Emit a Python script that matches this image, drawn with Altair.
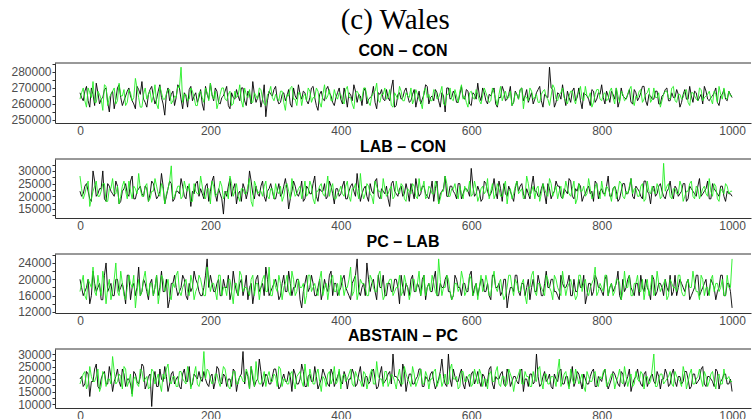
import altair as alt
import pandas as pd

# Values in thousands.
# *_a: values at iterations 0, 5, ..., 1000 ; *_b: values at 2.5, 7.5, ..., 997.5
iters_a = [i * 5 for i in range(201)]
iters_b = [i * 5 + 2.5 for i in range(200)]

con_con_black_a = [
    267,262,271,258,266,273,260,264,270,255,268,263,272,259,265,270,262,257,269,274,
    261,266,271,260,268,264,253,270,266,259,272,263,267,258,271,265,261,269,256,266,
    273,262,268,260,265,271,257,264,269,262,270,259,266,274,261,267,263,252,268,265,
    271,260,266,262,269,258,265,272,263,267,260,270,264,256,268,262,271,265,259,267,
    263,270,258,266,272,261,265,268,260,264,271,257,266,263,269,262,275,259,267,264,
    270,261,266,258,268,263,272,260,265,269,262,267,255,270,264,266,261,271,263,268,
    259,266,273,262,267,260,265,270,258,264,268,263,271,261,266,269,262,269,264,260,
    267,271,258,265,283,269,261,266,272,259,264,268,262,270,257,266,263,269,261,267,
    272,260,265,268,263,258,270,264,266,261,269,262,267,271,259,265,263,268,260,266,
    270,262,264,269,258,266,263,271,261,267,264,260,268,262,265,270,259,266,263,268,
    264]
con_con_black_b = [
    264,268,262,270,259,267,263,269,261,266,257,270,264,262,268,265,260,271,266,263,
    258,269,265,263,272,260,266,262,268,264,270,257,265,269,262,267,264,260,271,263,
    266,270,261,264,268,259,267,263,265,270,262,268,260,266,264,258,272,262,266,269,
    263,261,267,265,260,270,263,266,268,262,264,271,259,266,263,269,267,261,264,270,
    260,265,267,262,268,266,259,270,263,265,261,267,269,262,264,270,258,266,263,268,
    265,262,269,263,260,266,271,264,262,267,258,265,270,263,268,261,266,264,269,260,
    267,263,265,270,262,266,268,260,264,271,262,266,259,268,263,270,265,261,267,263,
    269,262,266,264,270,258,267,263,265,268,261,270,264,262,267,265,259,268,263,266,
    264,268,261,266,270,262,265,263,269,260,267,264,271,262,266,263,268,260,265,269,
    262,267,264,266,261,269,263,265,268,262,266,271,263,264,267,261,265,269,262,266]
con_con_green_a = [
    263,270,258,267,274,261,266,256,271,264,268,260,273,265,259,269,262,276,264,258,
    270,266,261,272,257,267,263,269,260,265,271,283,266,262,270,264,259,268,261,267,
    273,263,257,266,270,262,268,260,264,272,258,266,269,261,265,270,263,259,267,264,
    266,262,268,256,265,271,263,267,259,266,270,261,264,268,258,272,265,262,269,263,
    266,260,271,264,257,268,262,270,265,259,267,273,261,266,263,269,258,265,271,262,
    267,264,260,269,263,257,270,266,262,268,264,271,259,266,263,269,261,272,265,258,
    268,263,266,260,270,264,262,267,259,271,265,263,268,261,266,269,257,264,270,263,
    266,261,268,264,259,272,263,266,270,262,265,268,260,267,263,271,264,258,266,269,
    262,267,263,270,260,265,268,262,266,271,259,264,269,263,267,261,270,264,258,266,
    268,263,271,261,266,264,269,259,267,263,270,262,265,268,260,266,271,263,264,268,
    265]
con_con_green_b = [
    267,262,270,264,261,268,263,272,259,266,270,262,265,269,261,267,264,270,258,266,
    263,268,265,260,271,263,266,269,262,264,270,261,266,263,268,259,267,264,270,262,
    265,268,261,270,263,266,259,268,265,262,270,264,261,267,263,269,260,266,271,262,
    264,268,261,266,270,263,259,267,265,262,268,264,270,261,266,263,269,262,265,267,
    262,269,264,260,267,266,263,270,261,265,268,262,266,270,264,259,267,263,268,262,
    265,270,263,266,261,268,264,262,269,263,267,260,266,270,262,265,268,263,261,267,
    264,269,262,265,267,261,270,263,266,262,268,264,259,267,263,270,265,262,268,264,
    261,266,269,263,265,270,262,267,264,260,268,263,266,271,262,265,267,261,269,263,
    266,262,268,264,270,261,266,263,269,262,265,268,261,266,270,263,264,267,262,268,
    264,270,262,266,263,268,261,267,265,262,269,264,266,263,268,261,266,270,263,265]

lab_con_black_a = [
    22,21,25,19,30,20,23,30,18,24,21,26,17,22,25,20,28,19,23,21,
    24,18,26,22,20,29,17,23,25,19,22,27,20,24,16,21,26,23,19,25,
    22,28,18,21,13,20,27,23,17,22,25,19,30,21,24,20,26,18,23,22,
    19,25,21,27,15,22,24,20,26,19,23,21,28,18,22,25,20,24,17,23,
    21,26,19,24,22,29,18,23,20,25,21,27,19,22,24,16,26,21,23,20,
    25,18,22,27,20,24,21,19,26,23,17,22,28,20,24,21,25,19,23,22,
    31,20,24,18,26,22,21,27,19,23,25,20,22,18,26,24,21,23,19,28,
    22,20,25,17,23,21,26,24,19,22,27,20,23,25,18,21,24,22,26,19,
    23,21,28,20,24,18,22,25,21,27,19,23,20,26,22,17,24,21,25,20,
    22,26,19,23,21,25,18,24,22,20,27,21,23,19,25,22,20,24,18,21,
    20]
lab_con_black_b = [
    20,24,22,18,26,21,23,19,25,22,20,24,18,23,21,26,19,22,24,20,
    23,21,25,19,22,24,20,26,18,22,21,24,19,23,22,25,20,21,24,18,
    26,21,23,19,22,24,20,25,21,18,23,22,26,19,21,24,20,22,25,19,
    22,20,24,23,19,26,21,22,18,24,21,25,20,23,22,19,26,21,23,20,
    24,19,22,25,20,23,21,24,18,22,26,20,23,21,19,25,22,20,24,21,
    22,25,19,23,21,24,20,22,18,26,21,23,20,24,22,19,25,21,23,20,
    24,21,22,19,25,20,23,22,26,18,21,24,20,23,22,25,19,21,24,22,
    20,23,21,25,19,22,24,20,23,21,26,19,22,24,20,23,21,18,25,22,
    21,24,20,23,22,19,25,21,23,20,24,22,19,26,21,23,20,24,22,19,
    23,21,24,20,22,25,19,23,21,24,20,22,26,19,23,21,24,20,22,21]
lab_con_green_a = [
    28,19,24,16,22,26,20,25,18,23,27,21,17,24,22,26,19,23,29,20,
    24,18,22,27,21,25,17,23,32,20,24,19,26,22,18,25,21,28,20,23,
    17,24,21,26,19,22,28,20,25,18,23,21,27,16,24,22,20,26,19,23,
    25,21,18,24,22,27,20,23,19,26,21,24,17,22,25,20,28,23,19,21,
    24,20,26,18,23,22,29,19,25,21,17,24,22,27,20,23,19,26,21,24,
    18,22,25,20,27,23,19,24,21,26,17,22,28,20,23,25,19,21,24,22,
    20,26,18,23,21,27,22,19,25,20,24,17,23,21,26,22,19,28,20,24,
    23,18,25,21,27,20,24,22,19,26,21,23,17,25,22,20,27,19,24,21,
    26,20,23,18,24,22,25,19,21,27,23,20,24,18,26,21,22,25,19,33,
    24,20,23,21,26,18,22,25,20,24,19,23,21,27,20,24,18,22,25,21,
    22]
lab_con_green_b = [
    23,21,26,19,24,20,22,25,18,23,21,24,20,26,19,22,24,21,23,20,
    25,19,22,24,20,23,21,26,19,22,24,20,23,25,18,22,21,24,19,23,
    26,20,22,24,21,19,25,22,20,23,21,24,18,26,21,22,24,20,23,19,
    22,24,20,25,19,23,21,24,22,20,26,19,22,24,21,23,20,25,19,22,
    21,24,20,23,25,19,22,21,24,20,26,22,19,23,21,24,20,22,25,19,
    23,21,24,19,22,26,20,23,21,24,19,22,25,20,23,21,24,19,22,26,
    21,23,20,24,22,19,25,21,23,20,26,22,19,24,21,23,20,25,22,19,
    24,21,23,20,25,22,19,24,21,23,20,26,19,22,24,21,23,20,25,19,
    22,24,21,23,19,26,20,22,24,21,23,20,25,19,22,24,21,23,20,22,
    25,19,23,21,24,20,22,26,19,23,21,24,20,22,25,19,23,21,24,22]

pc_lab_black_a = [
    20,16,18,14,22,17,19,15,24,18,16,20,17,19,14,21,18,16,23,17,
    19,15,20,18,16,22,17,13,19,21,16,18,20,15,17,22,19,16,18,25,
    21,17,19,16,20,18,15,22,17,19,16,21,18,14,20,17,19,23,16,18,
    20,15,19,17,22,16,18,20,13,19,17,21,16,18,15,20,17,22,19,16,
    18,21,17,15,20,25,16,19,24,17,20,15,18,21,16,19,17,20,14,18,
    19,16,21,17,18,20,15,19,17,22,16,18,20,17,15,21,18,16,19,17,
    22,18,16,20,17,19,15,21,18,16,20,13,18,17,21,16,19,18,15,20,
    17,19,16,22,18,20,17,15,19,18,21,16,17,20,18,14,19,16,21,18,
    17,20,16,19,18,22,15,17,20,18,16,19,21,17,18,15,20,17,19,16,
    18,21,17,16,20,18,19,15,17,21,16,18,20,17,19,15,18,21,16,19,
    13]
pc_lab_black_b = [
    18,17,20,16,19,18,15,21,17,19,16,20,18,17,21,15,19,18,16,20,
    17,19,16,21,18,17,20,15,19,18,17,21,16,19,18,20,17,16,21,18,
    19,17,20,16,18,21,17,19,16,20,18,15,19,17,21,18,16,20,17,19,
    18,16,21,17,19,18,20,15,17,21,18,19,16,20,17,18,21,16,19,17,
    20,18,16,19,21,17,18,16,20,19,17,21,18,16,19,17,20,18,21,16,
    18,20,17,19,16,21,18,17,20,16,19,18,21,17,16,20,18,19,17,21,
    16,19,18,20,17,16,21,18,19,17,20,16,18,21,17,19,16,20,18,17,
    21,16,19,18,20,17,16,21,18,19,16,20,17,18,21,16,19,17,20,18,
    16,21,18,17,19,16,20,18,21,17,19,16,18,20,17,21,16,19,18,20,
    17,16,21,18,19,17,20,16,18,21,17,19,16,20,18,17,21,16,19,17]
pc_lab_green_a = [
    17,21,15,19,23,16,18,22,14,20,17,24,16,19,15,21,18,13,20,17,
    22,16,19,18,14,21,17,20,15,18,22,16,19,17,21,15,18,20,16,23,
    17,19,15,21,18,16,20,14,19,22,17,18,16,21,19,15,20,17,23,16,
    18,21,15,19,17,22,16,20,18,14,21,17,19,16,22,18,15,20,17,19,
    21,16,18,23,17,15,20,19,16,21,18,17,22,15,19,20,16,18,21,17,
    19,15,20,17,22,18,16,19,21,17,25,16,18,20,15,19,17,22,16,18,
    20,17,15,21,18,19,16,22,17,20,15,18,21,16,19,17,20,14,18,22,
    16,19,17,21,18,15,20,17,22,16,19,18,15,21,17,20,16,19,23,17,
    18,21,16,19,17,20,15,22,18,16,19,21,17,15,20,18,16,22,17,19,
    15,20,18,17,21,16,19,18,22,17,15,20,18,16,21,19,17,20,16,18,
    25]
pc_lab_green_b = [
    19,16,20,18,17,21,16,19,18,15,20,17,22,16,18,19,21,17,16,20,
    18,19,16,21,17,20,18,16,19,21,17,18,20,16,19,17,21,18,16,20,
    19,17,21,16,18,20,17,19,16,21,18,17,20,16,19,18,21,17,16,20,
    17,19,18,21,16,20,17,18,19,16,21,18,17,20,16,19,18,21,17,16,
    19,18,20,16,21,17,19,18,16,20,17,21,18,16,19,20,17,18,16,21,
    18,17,20,19,16,21,18,17,19,16,20,18,21,17,16,19,18,20,17,21,
    16,19,18,17,21,16,20,18,19,17,16,21,18,20,17,19,16,18,21,17,
    19,18,16,20,17,21,18,16,19,18,20,17,16,21,19,17,18,20,16,19,
    17,21,18,16,20,19,17,18,21,16,19,17,20,18,16,21,17,19,18,20,
    16,19,18,21,17,16,20,18,19,17,21,16,18,20,17,19,18,16,21,18]

abstain_pc_black_a = [
    20,17,23,13,19,26,16,22,18,25,15,21,19,24,17,20,14,22,18,26,
    16,21,9,23,17,20,25,15,22,18,21,16,24,19,17,22,20,20,23,18,
    21,16,25,19,22,17,20,24,15,21,31,23,16,20,19,28,17,22,18,21,
    24,16,20,19,23,15,22,18,26,17,21,19,25,16,20,22,18,24,17,21,
    19,23,16,20,22,18,25,17,21,19,24,16,22,18,20,23,30,21,19,26,
    15,22,18,20,24,17,21,19,23,16,20,28,18,30,17,21,19,24,16,20,
    22,18,23,17,21,19,25,16,20,22,18,24,17,21,19,23,15,20,22,18,
    30,17,21,19,22,16,20,23,18,21,17,25,19,22,16,20,18,23,17,21,
    19,24,16,20,22,18,23,17,21,15,20,24,18,22,17,21,19,23,16,20,
    22,18,24,17,21,19,23,16,22,18,20,25,17,21,19,24,16,20,22,18,
    15]
abstain_pc_black_b = [
    21,18,22,19,24,17,20,23,18,21,19,24,17,22,20,18,23,19,21,25,
    18,22,20,17,24,19,21,18,23,20,17,22,19,25,18,21,23,19,20,17,
    22,19,24,18,21,20,17,23,19,22,18,21,25,17,20,23,19,21,18,24,
    20,17,22,19,21,24,18,20,23,17,22,19,21,18,24,20,17,22,19,23,
    18,21,20,24,17,22,19,21,18,23,20,17,25,19,22,18,21,20,17,23,
    19,22,18,21,24,17,20,22,19,18,23,21,17,20,24,19,22,18,21,17,
    23,20,19,22,17,24,18,21,20,23,17,22,19,21,18,24,20,17,22,19,
    21,18,23,20,17,22,19,24,18,21,20,17,23,19,22,18,21,24,17,20,
    22,19,18,23,20,17,22,19,24,18,21,20,17,23,19,22,18,21,20,24,
    17,22,19,21,18,23,20,17,22,19,24,18,21,20,17,23,19,22,18,20]
abstain_pc_green_a = [
    18,22,16,25,19,21,15,23,17,20,29,18,22,16,24,19,13,21,17,23,
    20,16,24,18,22,15,20,26,18,21,17,23,19,25,16,22,18,20,31,24,
    20,19,22,17,25,20,16,23,18,21,19,24,16,22,27,18,20,17,23,19,
    21,25,17,20,18,23,16,22,19,26,17,21,18,24,15,20,22,18,25,19,
    16,22,20,24,17,21,19,23,16,22,18,27,20,17,23,19,21,16,24,18,
    22,19,25,17,21,18,23,16,20,24,19,17,22,18,26,20,16,23,19,21,
    17,24,18,22,20,16,23,19,25,17,21,18,22,15,20,24,18,21,17,23,
    19,25,16,22,18,21,17,28,19,23,16,20,24,18,22,15,21,19,23,17,
    20,24,18,22,16,21,19,25,17,22,18,20,23,16,21,19,30,17,22,18,
    20,23,17,21,19,25,16,22,18,20,24,17,21,19,23,16,22,18,20,21,
    19]
abstain_pc_green_b = [
    20,23,18,21,19,24,17,22,20,18,23,19,21,25,17,22,20,18,24,19,
    21,17,23,20,18,22,24,19,21,17,23,20,18,22,19,25,17,21,20,23,
    18,22,19,21,24,17,20,23,18,21,19,22,25,17,20,18,23,21,19,22,
    17,24,20,18,22,19,21,23,17,20,24,18,22,19,21,17,23,20,18,24,
    21,19,22,18,23,20,17,22,19,24,18,21,20,23,17,22,19,21,18,25,
    20,17,22,19,24,18,21,20,23,17,22,19,18,24,20,21,17,23,19,22,
    18,21,24,17,20,22,19,23,18,21,17,24,20,19,22,18,23,21,17,20,
    24,19,22,18,21,20,23,17,22,19,24,18,21,20,17,23,19,22,18,21,
    23,17,20,22,19,24,18,21,20,17,23,19,22,21,18,24,17,20,22,19,
    21,18,23,20,17,22,19,24,18,21,20,23,17,22,19,21,18,24,20,19]

panel_titles = ["CON \u2013 CON", "LAB \u2013 CON", "PC \u2013 LAB", "ABSTAIN \u2013 PC"]
x_ticks = [0, 200, 400, 600, 800, 1000]

AX_FONT = "Liberation Sans"
LABEL_COLOR = "#4d4d4d"
LINE_COLOR = "#333333"
W = 696


def series_rows(vals_a, vals_b, chain):
    rows = [{"iter": it, "value": v * 1000, "chain": chain} for it, v in zip(iters_a, vals_a)]
    rows += [{"iter": it, "value": v * 1000, "chain": chain} for it, v in zip(iters_b, vals_b)]
    return rows


def panel(title, black_a, black_b, green_a, green_b, ydomain, yticks, major, height):
    df = pd.DataFrame(series_rows(black_a, black_b, "1") + series_rows(green_a, green_b, "2"))
    df = df.sort_values(["chain", "iter"])
    lines = alt.Chart(df).mark_line(strokeWidth=0.9, clip=True).encode(
        x=alt.X("iter:Q",
                scale=alt.Scale(domain=[-38.3, 1029], nice=False, zero=False),
                axis=alt.Axis(values=x_ticks, title=None, grid=False, ticks=False, format="d",
                              labelPadding=2, labelFont=AX_FONT, labelFontSize=12,
                              labelColor=LABEL_COLOR, domainColor=LINE_COLOR,
                              labelFlush=False)),
        y=alt.Y("value:Q",
                scale=alt.Scale(domain=ydomain, nice=False, zero=False),
                axis=alt.Axis(values=yticks, title=None, grid=False, format="d",
                              labelExpr=f"datum.value % {major} == 0 ? datum.label : ''",
                              tickSize=3, tickColor=LINE_COLOR, labelPadding=1,
                              labelFont=AX_FONT, labelFontSize=12,
                              labelColor=LABEL_COLOR, domainColor=LINE_COLOR)),
        color=alt.Color("chain:N",
                        scale=alt.Scale(domain=["1", "2"], range=["#000000", "#22ee22"]),
                        legend=None),
    )
    top = alt.Chart(pd.DataFrame({"a": [0]})).mark_rule(
        color=LINE_COLOR, strokeWidth=1).encode(y=alt.value(0))
    return alt.layer(lines, top).properties(
        width=W, height=height,
        title=alt.TitleParams(title, font=AX_FONT, fontSize=16, fontWeight="bold",
                              color="#000000", anchor="middle", offset=4))


p1 = panel(panel_titles[0], con_con_black_a, con_con_black_b, con_con_green_a, con_con_green_b,
           [248100, 285600],
           [250000, 255000, 260000, 265000, 270000, 275000, 280000, 285000], 10000, 60)
p2 = panel(panel_titles[1], lab_con_black_a, lab_con_black_b, lab_con_green_a, lab_con_green_b,
           [11450, 34700],
           [12500, 15000, 17500, 20000, 22500, 25000, 27500, 30000, 32500], 5000, 59)
p3 = panel(panel_titles[2], pc_lab_black_a, pc_lab_black_b, pc_lab_green_a, pc_lab_green_b,
           [11750, 26200],
           [12000, 14000, 16000, 18000, 20000, 22000, 24000, 26000], 4000, 59)
p4 = panel(panel_titles[3], abstain_pc_black_a, abstain_pc_black_b, abstain_pc_green_a,
           abstain_pc_green_b, [8400, 32000],
           [10000, 12500, 15000, 17500, 20000, 22500, 25000, 27500, 30000], 5000, 59)

chart = alt.vconcat(p1, p2, p3, p4, spacing=2).properties(
    title=alt.TitleParams("(c) Wales", font="Liberation Serif", fontSize=29,
                          fontWeight="normal", color="#000000", anchor="middle",
                          dx=14, offset=8),
    padding={"left": 10, "top": 5, "right": 0, "bottom": 0},
).configure_view(stroke=None)

chart.save("out.html", embed_options={"renderer": "svg", "actions": False})
